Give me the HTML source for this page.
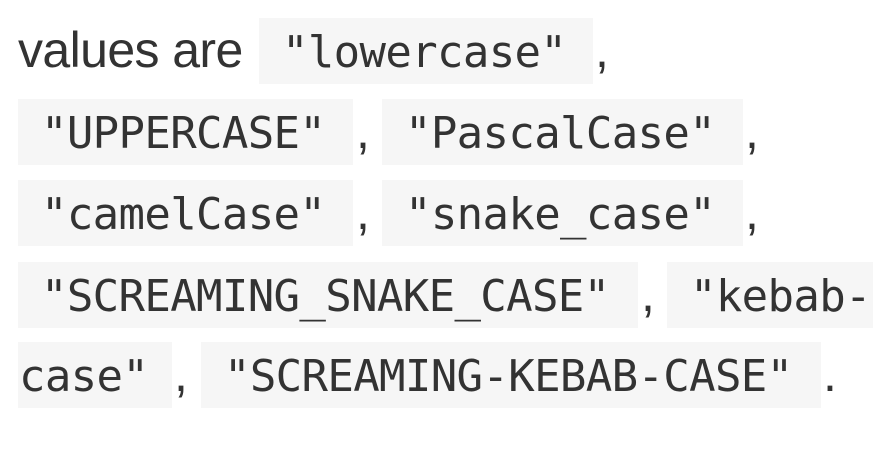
<!DOCTYPE html>
<html><head><meta charset="utf-8"><style>
html,body{margin:0;padding:0;background:#fff;width:893px;height:451px;overflow:hidden;position:relative;color:#333;}
.b{position:absolute;height:66px;background:#f6f6f6;}
.m{position:absolute;font-family:"DejaVu Sans Mono","Liberation Mono",monospace;font-size:44px;letter-spacing:-0.65px;line-height:66px;white-space:pre;height:66px;}
.s{position:absolute;font-family:"Liberation Sans",sans-serif;font-size:50px;line-height:66px;white-space:pre;}
</style></head><body>
<div class="s" style="left:18px;top:17px;letter-spacing:-0.6px">values are</div>
<div class="b" style="left:259px;top:18px;width:334px"></div>
<div class="m" style="left:282px;top:20px">"lowercase"</div>
<div class="s" style="left:595px;top:17px">,</div>

<div class="b" style="left:18px;top:99px;width:335px"></div>
<div class="m" style="left:41px;top:101px">"UPPERCASE"</div>
<div class="s" style="left:356px;top:98px">,</div>
<div class="b" style="left:382px;top:99px;width:361px"></div>
<div class="m" style="left:405px;top:101px">"PascalCase"</div>
<div class="s" style="left:745px;top:98px">,</div>

<div class="b" style="left:18px;top:180px;width:335px"></div>
<div class="m" style="left:41px;top:182px">"camelCase"</div>
<div class="s" style="left:356px;top:179px">,</div>
<div class="b" style="left:382px;top:180px;width:361px"></div>
<div class="m" style="left:405px;top:182px">"snake_case"</div>
<div class="s" style="left:745px;top:179px">,</div>

<div class="b" style="left:18px;top:262px;width:620px"></div>
<div class="m" style="left:41px;top:264px">"SCREAMING_SNAKE_CASE"</div>
<div class="s" style="left:641px;top:261px">,</div>
<div class="b" style="left:667px;top:262px;width:206px"></div>
<div class="m" style="left:690px;top:264px">"kebab-</div>

<div class="b" style="left:18px;top:342px;width:154px"></div>
<div class="m" style="left:19px;top:344px">case"</div>
<div class="s" style="left:174px;top:341px">,</div>
<div class="b" style="left:201px;top:342px;width:620px"></div>
<div class="m" style="left:224px;top:344px">"SCREAMING-KEBAB-CASE"</div>
<div class="s" style="left:823px;top:341px">.</div>
</body></html>
